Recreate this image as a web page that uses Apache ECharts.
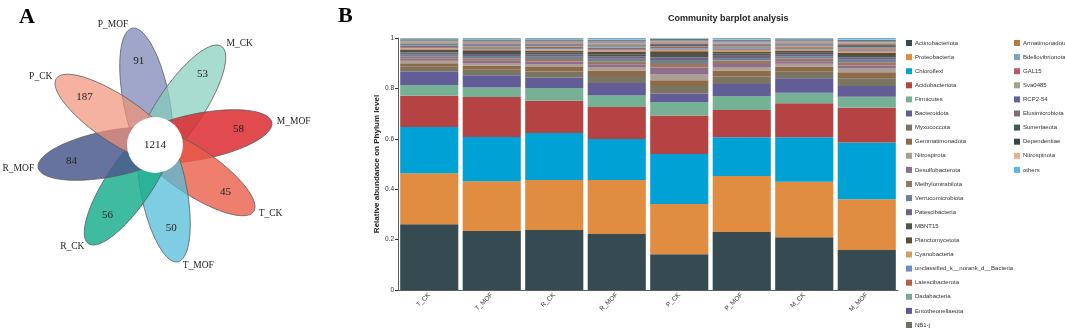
<!DOCTYPE html>
<html><head><meta charset="utf-8">
<script src="https://cdn.jsdelivr.net/npm/echarts@6/dist/echarts.min.js"></script>
<style>html,body{margin:0;padding:0;background:#fff}#c{width:1065px;height:331px}</style>
</head><body><div id="c"></div>
<script>
// ---------- Panel A data ----------
const petalNames = ['P_MOF','M_CK','M_MOF','T_CK','T_MOF','R_CK','R_MOF','P_CK'];
const petalCounts = [91, 53, 58, 45, 50, 56, 84, 187];
const coreCount = 1214;

// ---------- Panel B data ----------
const samples = ['T_CK','T_MOF','R_CK','R_MOF','P_CK','P_MOF','M_CK','M_MOF'];
const yTicks = [0, 0.2, 0.4, 0.6, 0.8, 1];
const phyla = ['Actinobacteriota','Proteobacteria','Chloroflexi','Acidobacteriota','Firmicutes','Bacteroidota',
  'Myxococcota','Gemmatimonadota','Nitrospirota','Desulfobacterota','Methylomirabilota','Verrucomicrobiota',
  'Patescibacteria','MBNT15','Planctomycetota','Cyanobacteria','unclassified_k__norank_d__Bacteria',
  'Latescibacterota','Dadabacteria','Entotheonellaeota','NB1-j',
  'Armatimonadota','Bdellovibrionota','GAL15','Sva0485','RCP2-54','Elusimicrobiota','Sumerlaeota',
  'Dependentiae','Nitrospinota','others'];

const Actinobacteriota  = [.261,.234,.238,.222,.142,.230,.209,.159];
const Proteobacteria    = [.202,.198,.199,.215,.199,.222,.221,.201];
const Chloroflexi       = [.184,.175,.186,.162,.199,.154,.176,.225];
const Acidobacteriota   = [.124,.159,.128,.127,.152,.108,.135,.138];
const Firmicutes        = [.042,.038,.051,.046,.054,.056,.042,.044];
const Bacteroidota      = [.053,.048,.041,.049,.034,.047,.057,.043];
const Myxococcota       = [.020,.022,.024,.028,.030,.030,.026,.030];
const Gemmatimonadota   = [.014,.016,.018,.022,.022,.024,.020,.024];
const Nitrospirota      = [.010,.011,.012,.014,.023,.014,.012,.015];
const Desulfobacterota  = [.008,.009,.010,.011,.028,.012,.010,.012];
const Methylomirabilota = [.008,.010,.010,.012,.018,.014,.011,.013];
const Verrucomicrobiota = [.008,.009,.009,.010,.012,.010,.009,.010];
const Patescibacteria   = [.008,.008,.009,.010,.010,.009,.008,.010];
const MBNT15            = [.006,.007,.007,.008,.014,.008,.007,.009];
const Planctomycetota   = [.006,.007,.007,.008,.010,.008,.007,.008];
const Cyanobacteria     = [.005,.005,.006,.006,.006,.006,.006,.007];
const unclassifiedBact  = [.005,.005,.005,.006,.006,.006,.005,.006];
const Latescibacterota  = [.004,.004,.005,.005,.005,.005,.005,.005];
const Dadabacteria      = [.004,.004,.004,.005,.004,.004,.004,.005];
const Entotheonellaeota = [.003,.004,.004,.004,.004,.004,.004,.004];
const NB1j              = [.003,.003,.003,.004,.004,.004,.003,.004];
const Armatimonadota    = [.003,.003,.003,.003,.003,.003,.003,.004];
const Bdellovibrionota  = [.002,.003,.003,.003,.003,.003,.003,.003];
const GAL15             = [.002,.002,.002,.003,.003,.002,.002,.003];
const Sva0485           = [.002,.002,.002,.002,.003,.002,.002,.002];
const RCP2_54           = [.002,.002,.002,.002,.002,.002,.002,.002];
const Elusimicrobiota   = [.002,.002,.002,.002,.002,.002,.002,.002];
const Sumerlaeota       = [.002,.002,.002,.002,.002,.002,.002,.002];
const Dependentiae      = [.002,.002,.002,.002,.002,.002,.002,.002];
const Nitrospinota      = [.002,.002,.002,.002,.002,.002,.002,.002];
const others            = [.003,.004,.004,.005,.002,.005,.003,.006];

const seriesValues = [Actinobacteriota,Proteobacteria,Chloroflexi,Acidobacteriota,Firmicutes,Bacteroidota,
  Myxococcota,Gemmatimonadota,Nitrospirota,Desulfobacterota,Methylomirabilota,Verrucomicrobiota,
  Patescibacteria,MBNT15,Planctomycetota,Cyanobacteria,unclassifiedBact,Latescibacterota,Dadabacteria,
  Entotheonellaeota,NB1j,Armatimonadota,Bdellovibrionota,GAL15,Sva0485,RCP2_54,Elusimicrobiota,
  Sumerlaeota,Dependentiae,Nitrospinota,others];

// ---------- styles ----------
const barColors = ['#364a52','#e08d42','#00a2d6','#b54343','#76b195','#625d97','#7a7560','#8d6a4a',
  '#ab9e92','#8e6e8c','#9c7662','#6a8296','#6e6482','#4e5550','#5a4c3a','#d99a62','#6e8fbf','#b85c48',
  '#73a89a','#5f5a90','#6f6e60','#b87a40','#7fa2c0','#b85a6a','#9aa684','#5e62a0','#7d6e72','#3f5a52',
  '#3a4448','#e8b08c','#5bb6e0'];
const petalColors = ['rgba(118,128,178,0.7)','rgba(131,205,186,0.7)','rgba(220,42,48,0.85)','rgba(234,94,74,0.8)',
  'rgba(84,188,218,0.75)','rgba(29,175,142,0.85)','rgba(75,91,142,0.85)','rgba(241,146,119,0.7)'];

const serif = '"Liberation Serif","DejaVu Serif",serif';
const sans = '"Liberation Sans",Arial,sans-serif';

// petal geometry (data units = px because of equal-scale axes)
const START_ANGLE = 101, STEP = 45, DIST = 45.5, SEMI_A = 73.5, SEMI_B = 23;

function renderPetal(params, api) {
  const i = api.value(0);
  const th = (START_ANGLE - STEP * i) * Math.PI / 180;
  const cx = DIST * Math.cos(th), cy = DIST * Math.sin(th);
  const pts = [];
  for (let k = 0; k < 96; k++) {
    const t = 2 * Math.PI * k / 96;
    const lx = SEMI_A * Math.cos(t), ly = SEMI_B * Math.sin(t);
    pts.push(api.coord([cx + lx * Math.cos(th) - ly * Math.sin(th), cy + lx * Math.sin(th) + ly * Math.cos(th)]));
  }
  const cnt = api.coord([85 * Math.cos(th), 85 * Math.sin(th)]);
  const tipR = DIST + SEMI_A;
  const tip = api.coord([tipR * Math.cos(th), tipR * Math.sin(th)]);
  const right = Math.cos(th) > 0;
  const nx = tip[0] + (right ? 5 : -4);
  const ny = tip[1] - Math.sin(th) * 4;
  return {
    type: 'group',
    children: [
      { type: 'polygon', shape: { points: pts }, style: { fill: petalColors[i], stroke: '#5a5a5a', lineWidth: 0.8 } },
      { type: 'text', x: cnt[0], y: cnt[1], z2: 10, style: { text: String(api.value(1)), fill: '#222', font: '11px ' + serif, align: 'center', verticalAlign: 'middle' } },
      { type: 'text', x: nx, y: ny, z2: 10, style: { text: petalNames[i], fill: '#222', font: '9.5px ' + serif, align: right ? 'left' : 'right', verticalAlign: 'middle' } }
    ]
  };
}

const barSeries = phyla.map((name, k) => ({
  name: name, type: 'bar', stack: 'total', xAxisIndex: 0, yAxisIndex: 0,
  barCategoryGap: '7%', data: seriesValues[k], itemStyle: { color: barColors[k] },
  emphasis: { disabled: true }
}));

const legendText = { fontSize: 6, lineHeight: 8, color: '#333', fontFamily: sans, padding: [0,0,0,-2] };

const chart = echarts.init(document.getElementById('c'), null, { renderer: 'canvas' });
chart.setOption({
  animation: false,
  color: barColors,
  title: [
    { text: 'Community barplot analysis', left: 663, top: 9, textStyle: { fontSize: 9, fontWeight: 'bold', color: '#222', fontFamily: sans } },
    { text: 'A', left: 14, top: 1, textStyle: { fontSize: 22, fontWeight: 'bold', color: '#000', fontFamily: serif } },
    { text: 'B', left: 333, top: 0, textStyle: { fontSize: 22, fontWeight: 'bold', color: '#000', fontFamily: serif } }
  ],
  legend: [
    { data: phyla.slice(0, 21), orient: 'vertical', left: 906, top: 39, height: 400, padding: 0, itemWidth: 6, itemHeight: 6, itemGap: 6.1,
      icon: 'rect', selectedMode: false, textStyle: legendText },
    { data: phyla.slice(21), orient: 'vertical', left: 1014, top: 39, height: 400, padding: 0, itemWidth: 6, itemHeight: 6, itemGap: 6.1,
      icon: 'rect', selectedMode: false, textStyle: legendText }
  ],
  grid: [
    { left: 398, right: 167, top: 38, bottom: 41 },
    { left: 0, top: 0, width: 310, height: 310 }
  ],
  xAxis: [
    { type: 'category', gridIndex: 0, data: samples,
      axisLine: { lineStyle: { color: '#333', width: 0.8 } },
      axisTick: { alignWithLabel: true, length: 3, lineStyle: { color: '#333' } },
      axisLabel: { rotate: 45, fontSize: 6.5, color: '#333', fontFamily: sans, margin: 4 } },
    { type: 'value', gridIndex: 1, min: -155, max: 155, show: false }
  ],
  yAxis: [
    { type: 'value', gridIndex: 0, min: yTicks[0], max: yTicks[yTicks.length - 1], interval: 0.2,
      name: 'Relative abundance on Phylum level', nameLocation: 'middle', nameGap: 17,
      nameTextStyle: { fontSize: 8, fontWeight: 'bold', color: '#222', fontFamily: sans },
      axisLine: { show: true, lineStyle: { color: '#333', width: 0.8 } },
      axisTick: { show: true, length: 3, lineStyle: { color: '#333' } },
      splitLine: { show: false },
      axisLabel: { fontSize: 6.5, color: '#333', fontFamily: sans, margin: 4 } },
    { type: 'value', gridIndex: 1, min: -165, max: 145, show: false }
  ],
  series: barSeries.concat([
    { type: 'custom', xAxisIndex: 1, yAxisIndex: 1, renderItem: renderPetal, z: 2,
      data: petalCounts.map((c, i) => [i, c]), silent: true },
    { type: 'scatter', xAxisIndex: 1, yAxisIndex: 1, z: 3, symbolSize: 56, silent: true,
      data: [[0, 0, coreCount]], itemStyle: { color: '#fff', opacity: 1 },
      label: { show: true, position: 'inside', formatter: (p) => String(p.value[2]), color: '#222', fontSize: 11, fontFamily: serif } }
  ])
});
</script></body></html>
